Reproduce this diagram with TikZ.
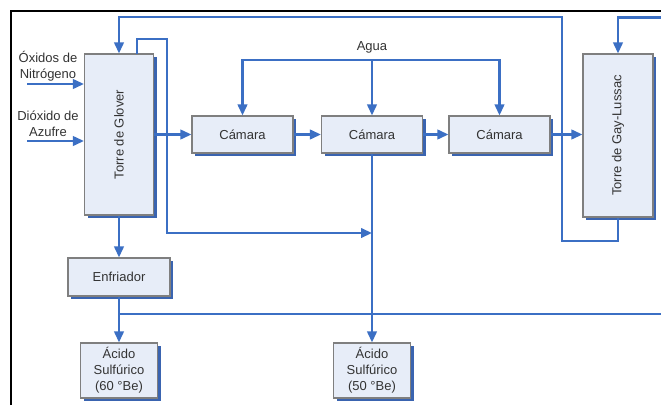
\documentclass[tikz,border=0pt]{standalone}
\usepackage{fontspec}
\setmainfont{Liberation Sans}
\usetikzlibrary{arrows.meta,shadows}
\definecolor{flowc}{HTML}{3B6FC4}
\definecolor{boxfill}{HTML}{E7EDF8}
\definecolor{boxline}{HTML}{7F7F7F}
\definecolor{shadowc}{HTML}{3A64B0}
\tikzset{
  box/.style={draw=boxline, line width=1.1pt, fill=boxfill, align=center, inner sep=0pt,
    drop shadow={shadow xshift=3pt, shadow yshift=-3pt, fill=shadowc, opacity=1}},
  flow/.style={draw=flowc, line width=2.3pt},
  arr/.style={flow, -{Triangle[length=11pt,width=9.5pt]}},
  lbl/.style={align=center, inner sep=0pt}
}
\begin{document}
\begin{tikzpicture}[x=1pt, y=-1pt, font=\fontsize{13}{16}\selectfont, text=black!80]
\useasboundingbox (0,0) rectangle (661,405);
\fill[white] (0,0) rectangle (661,405);
\draw[line width=1.2pt, black] (11,405) -- (11,11) -- (661,11);

% boxes
\node[box, minimum width=69pt, minimum height=161pt] (glover) at (119,134.5) {\rotatebox{90}{Torre de Glover}};
\node[box, minimum width=70pt, minimum height=163pt] (gay) at (618,135.5) {\rotatebox{90}{Torre de Gay-Lussac}};
\node[box, minimum width=101pt, minimum height=37pt] (c1) at (242.5,134.5) {Cámara};
\node[box, minimum width=101pt, minimum height=37pt] (c2) at (372,134.5) {Cámara};
\node[box, minimum width=101pt, minimum height=37pt] (c3) at (499.5,134.5) {Cámara};
\node[box, minimum width=102pt, minimum height=38pt] (enf) at (119,277) {Enfriador};
\node[box, minimum width=77pt, minimum height=55pt] (a60) at (119,370.5) {Ácido\\Sulfúrico\\(60 °Be)};
\node[box, minimum width=77pt, minimum height=55pt] (a50) at (372,370.5) {Ácido\\Sulfúrico\\(50 °Be)};

% labels
\node[lbl] (lox) at (48,66.5) {Óxidos de\\Nitrógeno};
\node[lbl] (ldi) at (48,124) {Dióxido de\\Azufre};
\node[lbl] (agua) at (372,47) {Agua};

% coordinates
\coordinate (in1) at (27,84);
\coordinate (in2) at (27,141);
\coordinate (gy1) at (618,241);
\coordinate (gy2) at (562,241);
\coordinate (gy3) at (562,17);
\coordinate (gy4) at (119,17);
\coordinate (gt1) at (137,54);
\coordinate (gt2) at (137,39);
\coordinate (gt3) at (167,39);
\coordinate (gt4) at (167,233);
\coordinate (gt5) at (372,233);
\coordinate (w2) at (372,60);
\coordinate (h1) at (119,314);
\coordinate (h2) at (661,314);
\coordinate (gi) at (661,17.5);

% connectors
\draw[arr] (in1) -- (in1 -| glover.west);
\draw[arr] (in2) -- (in2 -| glover.west);
\draw[arr] (gay.south) -- (gy1) -- (gy2) -- (gy3) -- (gy4) -- (glover.north);
\draw[arr] (gt1) -- (gt2) -- (gt3) -- (gt4) -- (gt5);
\draw[arr] (gi) -| (gay.north);
\draw[arr] (w2) -| (c1.north);
\draw[arr] (w2) -| (c3.north);
\draw[arr] (w2) -- (c2.north);
\draw[arr] (glover.east) -- (c1.west);
\draw[arr] (c1.east) -- (c2.west);
\draw[arr] (c2.east) -- (c3.west);
\draw[arr] (c3.east) -- (c3.east -| gay.west);
\draw[arr] (c2.south) -- (a50.north);
\draw[arr] (glover.south) -- (enf.north);
\draw[arr] (enf.south) -- (a60.north);
\draw[flow] (h1) -- (h2);
\end{tikzpicture}
\end{document}
